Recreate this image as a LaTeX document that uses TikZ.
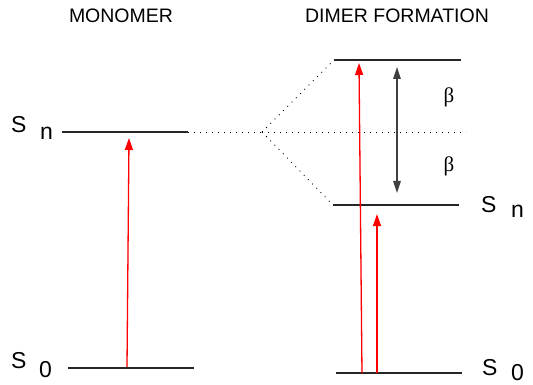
\documentclass[tikz,border=0pt]{standalone}
\usepackage{fontspec}
\setmainfont{Liberation Sans}
\newfontfamily\greekfont{Liberation Serif}
\usetikzlibrary{arrows.meta}
\begin{document}
\begin{tikzpicture}[x=1pt,y=-1pt,
  level/.style={line width=1.2pt,black!85},
  dotline/.style={line width=0.9pt,dash pattern=on 0.9pt off 5.1pt},
  redarrow/.style={draw=red,fill=red,line width=1.3pt,-{Triangle[length=12pt,width=8pt]}},
  betaarrow/.style={black!75,line width=1.5pt,{Triangle[length=12pt,width=7.5pt]}-{Triangle[length=12pt,width=7.5pt]}},
  title/.style={font=\fontsize{19.5}{21}\selectfont,anchor=base,inner sep=0pt},
  slabel/.style={font=\fontsize{23}{24}\selectfont,anchor=base west,inner sep=0pt},
  blabel/.style={font=\greekfont\fontsize{21}{22}\selectfont,inner sep=0pt}]
\useasboundingbox (0,0) rectangle (533,385);
% titles
\node[title] (tmono) at (121,23) {MONOMER};
\node[title] (tdimer) at (397,22.7) {DIMER FORMATION};
% coordinates
\coordinate (mSnL) at (62,132);
\coordinate (mSnR) at (188,132);
\coordinate (mS0L) at (68,368);
\coordinate (mS0R) at (194,368);
\coordinate (split) at (262,132);
\coordinate (midR) at (466,132);
\coordinate (dUpL) at (334,60);
\coordinate (dUpR) at (461,60);
\coordinate (dLoL) at (333,205);
\coordinate (dLoR) at (459,205);
\coordinate (dS0L) at (336,373);
\coordinate (dS0R) at (462,373);
% levels
\draw[level] (mSnL) -- (mSnR);
\draw[level] (mS0L) -- (mS0R);
\draw[level] (dUpL) -- (dUpR);
\draw[level] (dLoL) -- (dLoR);
\draw[level] (dS0L) -- (dS0R);
% dotted connectors
\draw[dotline] (mSnR) -- (split);
\draw[dotline] (split) -- (midR);
\draw[dotline] (split) -- (dUpL);
\draw[dotline] (split) -- (dLoL);
% red arrows
\coordinate (a1s) at (127,367);
\coordinate (a1e) at (129,138);
\coordinate (a2s) at (362,373);
\coordinate (a2e) at (359,63);
\coordinate (a3s) at (377,373);
\coordinate (a3e) at (377,214);
\draw[redarrow] (a1s) -- (a1e);
\draw[redarrow] (a2s) -- (a2e);
\draw[redarrow] (a3s) -- (a3e);
% beta arrow
\coordinate (b1) at (397,67);
\coordinate (b2) at (397,193);
\draw[betaarrow] (b1) -- (b2);
\node[blabel] (beta1) at (449,97.5) {β};
\node[blabel] (beta2) at (449,166) {β};
% state labels
\node[slabel] (mSnS) at (11,133) {S};
\node[slabel] (mSnn) at (40,140) {n};
\node[slabel] (mS0S) at (11,368) {S};
\node[slabel] (mS00) at (39,377) {0};
\node[slabel] (dSnS) at (481,212) {S};
\node[slabel] (dSnn) at (511,218) {n};
\node[slabel] (dS0S) at (482,375) {S};
\node[slabel] (dS00) at (511,380) {0};
\end{tikzpicture}
\end{document}
